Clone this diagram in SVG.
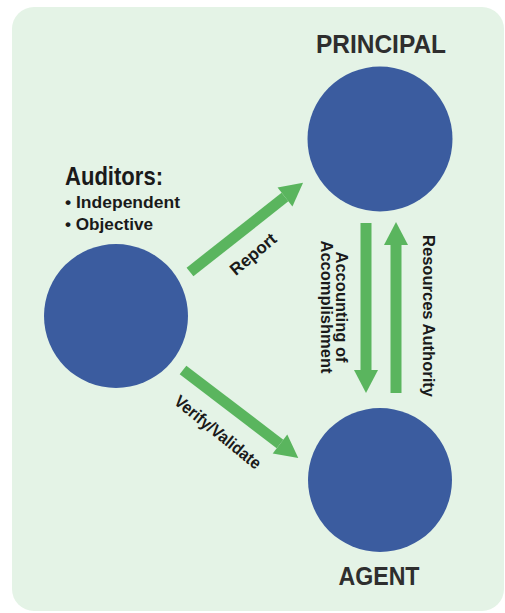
<svg xmlns="http://www.w3.org/2000/svg" width="505" height="613" viewBox="0 0 505 613">
<style>
.node{fill:#3b5c9f}
.title{font-family:"Liberation Sans",Arial,sans-serif;font-weight:bold;font-size:25px;fill:#2e2e2e;text-anchor:middle}
.lbl{font-family:"Liberation Sans",Arial,sans-serif;font-weight:bold;font-size:17px;fill:#1a1a1a}
.big{font-size:26px}
.mid{text-anchor:middle}
.shaft{stroke:#5ab55e;stroke-width:11;fill:none;marker-end:url(#head)}
</style>
<defs>
<marker id="head" markerUnits="userSpaceOnUse" markerWidth="24" markerHeight="24" refX="0" refY="12" orient="auto" overflow="visible">
<path d="M0,0 L23,12 L0,24 z" fill="#5ab55e"/>
</marker>
</defs>
<rect x="0" y="0" width="505" height="613" fill="#ffffff"/>
<rect x="12" y="7" width="492" height="604" rx="22" fill="#e4f3e6"/>
<g id="connectors">
<line class="shaft" x1="190" y1="272" x2="285" y2="197"/>
<line class="shaft" x1="183" y1="370" x2="280" y2="444"/>
<line class="shaft" x1="366" y1="223" x2="366" y2="370"/>
<line class="shaft" x1="396" y1="393" x2="396" y2="245"/>
<text class="lbl mid" transform="translate(253,254) rotate(-40)" x="0" y="6" textLength="55" lengthAdjust="spacingAndGlyphs">Report</text>
<text class="lbl mid" transform="translate(218,432) rotate(39)" x="0" y="6" textLength="106" lengthAdjust="spacingAndGlyphs">Verify/Validate</text>
<g transform="translate(341,307) rotate(90)">
<text class="lbl mid" x="0" y="5" textLength="111" lengthAdjust="spacingAndGlyphs">Accounting of</text>
<text class="lbl mid" x="0" y="20" textLength="133" lengthAdjust="spacingAndGlyphs">Accomplishment</text>
</g>
<text class="lbl mid" transform="translate(423,316) rotate(90)" x="0" y="0" textLength="162" lengthAdjust="spacingAndGlyphs">Resources Authority</text>
</g>
<g id="principal">
<circle class="node" cx="380" cy="139" r="72.5"/>
<text class="title" x="381" y="53" textLength="130" lengthAdjust="spacingAndGlyphs">PRINCIPAL</text>
</g>
<g id="auditors">
<circle class="node" cx="116" cy="316" r="72"/>
<text class="lbl big" x="65" y="185" textLength="98" lengthAdjust="spacingAndGlyphs">Auditors:</text>
<text class="lbl" x="65" y="208" textLength="115" lengthAdjust="spacingAndGlyphs">• Independent</text>
<text class="lbl" x="65" y="230" textLength="88" lengthAdjust="spacingAndGlyphs">• Objective</text>
</g>
<g id="agent">
<circle class="node" cx="380" cy="480" r="72"/>
<text class="title" x="379" y="585" textLength="81" lengthAdjust="spacingAndGlyphs">AGENT</text>
</g>
</svg>
